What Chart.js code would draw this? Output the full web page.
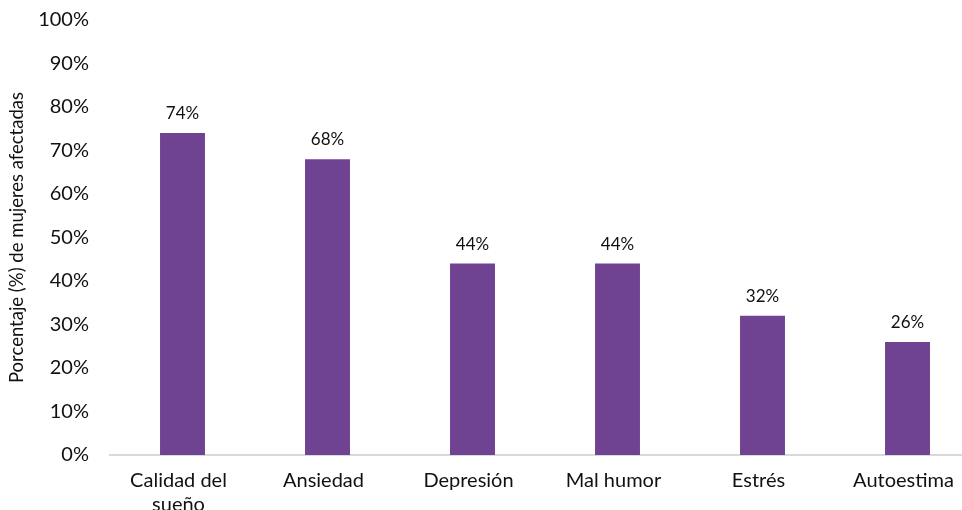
<!DOCTYPE html>
<html>
<head>
<meta charset="utf-8">
<script src="https://cdn.jsdelivr.net/npm/chart.js@4.4.1/dist/chart.umd.min.js"></script>
<style>
html,body{margin:0;padding:0;background:#fff;overflow:hidden;width:962px;height:510px;}
#wrap{position:absolute;left:0;top:0;width:980px;height:523px;}
</style>
</head>
<body>
<div id="wrap"><canvas id="c" width="980" height="523"></canvas></div>
<script>
const categories = [['Calidad del','sueño'], 'Ansiedad', 'Depresión', 'Mal humor', 'Estrés', 'Autoestima'];
const values = [74, 68, 44, 44, 32, 26];
const yTicks = [0,10,20,30,40,50,60,70,80,90,100];
const yTitle = 'Porcentaje (%) de mujeres afectadas';

const labelPlugin = {
  id: 'barLabels',
  afterDatasetsDraw(chart) {
    const ctx = chart.ctx;
    const meta = chart.getDatasetMeta(0);
    ctx.save();
    ctx.font = '17px Lato';
    ctx.fillStyle = '#111';
    ctx.textAlign = 'center';
    ctx.textBaseline = 'bottom';
    meta.data.forEach((bar, i) => {
      ctx.fillText(values[i] + '%', bar.x, bar.y - 11);
    });
    ctx.restore();
  }
};

new Chart(document.getElementById('c'), {
  type: 'bar',
  data: {
    labels: categories,
    datasets: [{
      data: values,
      backgroundColor: '#6F4392',
      barPercentage: 0.31,
      categoryPercentage: 1.0
    }]
  },
  options: {
    responsive: false,
    animation: false,
    layout: { padding: { top: 0, left: 6, right: 0, bottom: 0 } },
    plugins: { legend: { display: false }, tooltip: { enabled: false } },
    scales: {
      x: {
        grid: { display: false },
        border: { display: true, color: '#d9d9d9', width: 2 },
        ticks: { color: '#111', font: { family: 'Lato', size: 20 }, padding: 6, labelOffset: -4, maxRotation: 0, autoSkip: false }
      },
      y: {
        min: 0, max: 100,
        afterBuildTicks(axis) { axis.ticks = yTicks.map(v => ({ value: v })); },
        afterFit(axis) { axis.width = 104; axis.paddingTop = 20; axis.paddingBottom = 0; },
        grid: { display: false },
        border: { display: false },
        ticks: { color: '#111', font: { family: 'Lato', size: 20 }, padding: 13, callback: v => v + '%' },
        title: { display: true, text: yTitle, color: '#111', font: { family: 'Lato', size: 18.5 }, padding: { top: 0, bottom: 12 } }
      }
    }
  },
  plugins: [labelPlugin]
});
</script>
</body>
</html>
